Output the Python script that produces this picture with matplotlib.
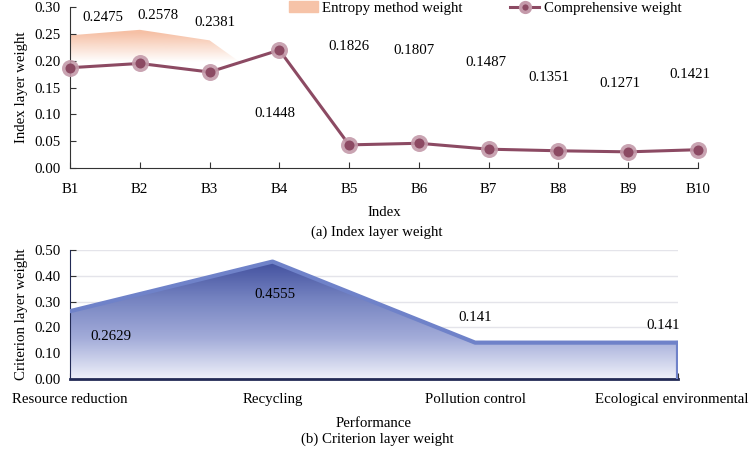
import numpy as np
import matplotlib.pyplot as plt
from matplotlib.patches import Patch
from matplotlib.lines import Line2D
from matplotlib.colors import LinearSegmentedColormap

plt.rcParams['font.family'] = ['Liberation Serif', 'DejaVu Serif']
plt.rcParams['font.size'] = 10.7

# (a) index layer
index_labels = ['B1', 'B2', 'B3', 'B4', 'B5', 'B6', 'B7', 'B8', 'B9', 'B10']
entropy_w = [0.2475, 0.2578, 0.2381, 0.1448, 0.1826, 0.1807, 0.1487, 0.1351, 0.1271, 0.1421]
compre_w = [0.187, 0.195, 0.179, 0.220, 0.043, 0.046, 0.035, 0.032, 0.030, 0.034]
# where the entropy value texts sit (x in index units, y in weight)
entropy_txt_x = [0.47, 1.26, 2.08, 2.94, 4.0, 4.93, 5.96, 6.87, 7.88, 8.88]
entropy_txt_y = [0.281, 0.285, 0.272, 0.102, 0.227, 0.220, 0.196, 0.168, 0.158, 0.174]

# (b) criterion layer
crit_labels = ['Resource reduction', 'Recycling', 'Pollution control', 'Ecological environmental']
crit_w = [0.2629, 0.4555, 0.141, 0.141]
crit_txt_x = [0.2, 1.01, 2.0, 2.93]
crit_txt_y = [0.163, 0.326, 0.240, 0.209]

fig = plt.figure(figsize=(7.54, 4.49), dpi=100)

# ---------- top chart ----------
ax1 = fig.add_axes([0.0928, 0.626, 0.833, 0.358])
x = np.arange(len(index_labels))

# entropy area, gradient fading out towards 0.20
poly = ax1.fill_between(x, entropy_w, 0, color='none', lw=0)
grad = np.zeros((200, 1, 4))
ys = np.linspace(0.30, 0.0, 200)
grad[:, 0, :3] = np.array([245, 185, 155]) / 255
grad[:, 0, 3] = np.clip((ys - 0.198) / 0.055, 0, 1) * 0.9
im = ax1.imshow(grad, extent=[0, len(x) - 1, 0, 0.30], aspect='auto', zorder=1)
im.set_clip_path(poly.get_paths()[0], transform=ax1.transData)

ax1.plot(x, compre_w, color='#8c4a63', lw=2.2, zorder=3)
ax1.scatter(x, compre_w, s=150, color='#c49aaa', alpha=0.9, zorder=4, clip_on=False, lw=0)
ax1.scatter(x, compre_w, s=52, color='#8c4a63', zorder=5, clip_on=False, lw=0)

for tx, ty, v in zip(entropy_txt_x, entropy_txt_y, entropy_w):
    ax1.text(tx, ty, f'{v:.4f}', ha='center', va='center')

ax1.set_xlim(0, len(x) - 1)
ax1.set_ylim(0, 0.30)
ax1.set_yticks(np.arange(0, 0.31, 0.05))
ax1.set_yticklabels([f'{t:.2f}' for t in np.arange(0, 0.31, 0.05)])
ax1.set_xticks(x)
ax1.set_xticklabels(index_labels)
ax1.spines['top'].set_visible(False)
ax1.spines['right'].set_visible(False)
for s in ['left', 'bottom']:
    ax1.spines[s].set_color('#333333')
ax1.tick_params(direction='in', length=4, color='#333333')
ax1.tick_params(axis='x', pad=11)
ax1.tick_params(axis='y', pad=7)
ax1.set_xlabel('Index', labelpad=7)
ax1.set_ylabel('Index layer weight', labelpad=4)

handles = [Patch(color='#f6c3a8', label='Entropy method weight'),
           Line2D([0], [0], color='#8c4a63', lw=2.2, marker='o', markersize=7,
                  markerfacecolor='#8c4a63', markeredgecolor='#c49aaa', markeredgewidth=2.5,
                  label='Comprehensive weight')]
fig.legend(handles=handles, loc='upper left', bbox_to_anchor=(0.383, 0.997), ncol=2,
           frameon=False, handlelength=1.95, handletextpad=0.3, columnspacing=3.2,
           borderpad=0, borderaxespad=0)

fig.text(0.5, 0.483, '(a) Index layer weight', ha='center', va='center')

# ---------- bottom chart ----------
ax2 = fig.add_axes([0.0928, 0.156, 0.806, 0.287])
xc = np.arange(len(crit_labels))
ax2.set_axisbelow(True)
ax2.yaxis.grid(True, color='#e4e4ea', lw=1)

poly2 = ax2.fill_between(xc, crit_w, 0, color='none', lw=0)
cmap = LinearSegmentedColormap.from_list('blu', ['#eef0f9', '#a3acd9', '#7482c0', '#3c4a9a'])
grad2 = np.linspace(1, 0, 200).reshape(-1, 1)
im2 = ax2.imshow(grad2, cmap=cmap, extent=[0, len(xc) - 1, 0, 0.47], aspect='auto',
                 zorder=2, vmin=0, vmax=1)
im2.set_clip_path(poly2.get_paths()[0], transform=ax2.transData)
ax2.plot(xc, crit_w, color='#6f82c9', lw=3, zorder=3)
ax2.plot([xc[-1], xc[-1]], [0, crit_w[-1]], color='#6f82c9', lw=3, zorder=3)

for tx, ty, v in zip(crit_txt_x, crit_txt_y, crit_w):
    ax2.text(tx, ty, f'{v:g}', ha='center', va='center', zorder=6)

ax2.set_xlim(0, len(xc) - 1)
ax2.set_ylim(0, 0.50)
ax2.set_yticks(np.arange(0, 0.51, 0.1))
ax2.set_yticklabels([f'{t:.2f}' for t in np.arange(0, 0.51, 0.1)])
ax2.set_xticks(xc)
# last label is drawn by hand, nudged left so it stays inside the figure
ax2.set_xticklabels(crit_labels[:-1] + [''])
ax2.annotate(crit_labels[-1], xy=(xc[-1], 0), xycoords=('data', 'axes fraction'),
             xytext=(-4, -10), textcoords='offset points', ha='center', va='top')
ax2.spines['top'].set_visible(False)
ax2.spines['right'].set_visible(False)
ax2.spines['left'].set_color('#222a55')
ax2.spines['bottom'].set_color('#222a55')
ax2.spines['bottom'].set_linewidth(2)
ax2.tick_params(direction='in', length=4, color='#333333')
ax2.tick_params(axis='x', pad=10)
ax2.tick_params(axis='y', pad=7)
ax2.set_xlabel('Performance', labelpad=8)
ax2.set_ylabel('Criterion layer weight', labelpad=4)

fig.text(0.5, 0.022, '(b) Criterion layer weight', ha='center', va='center')

plt.savefig('out.png', dpi=100)
